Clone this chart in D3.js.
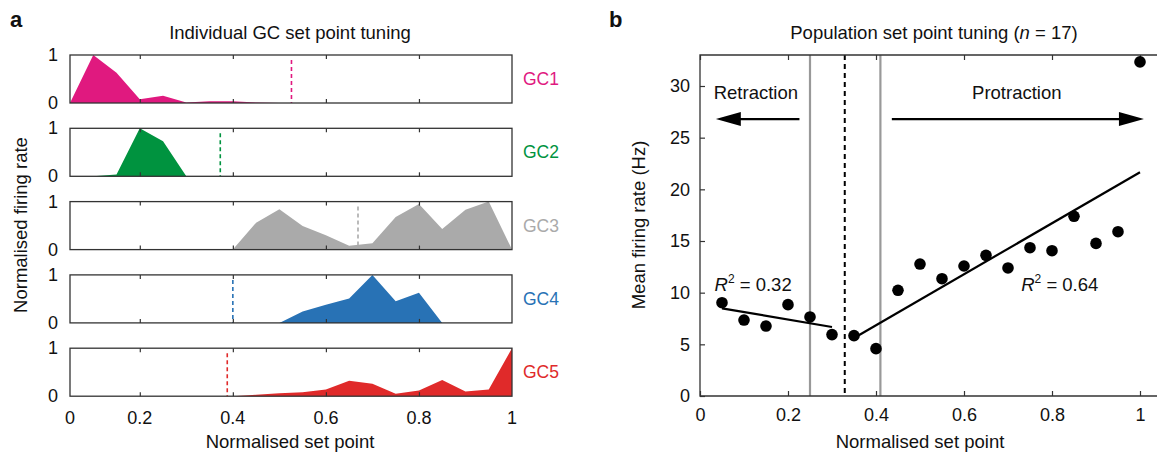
<!DOCTYPE html>
<html>
<head>
<meta charset="utf-8">
<script src="https://cdn.jsdelivr.net/npm/d3@7"></script>
<style>
  body { margin: 0; background: #fff; }
  text { font-family: "Liberation Sans", Arial, sans-serif; fill: #111; }
</style>
</head>
<body>
<script>
// SVG size
var svgWidth = 1157;
var svgHeight = 456;

// ---- panel a data: normalised firing rate per set point bin ----
var setPoints = [0.05, 0.1, 0.15, 0.2, 0.25, 0.3, 0.35, 0.4, 0.45, 0.5,
                 0.55, 0.6, 0.65, 0.7, 0.75, 0.8, 0.85, 0.9, 0.95, 1];
var gcNames = ["GC1", "GC2", "GC3", "GC4", "GC5"];
var gc1 = [0, 1, 0.63, 0.08, 0.15, 0.01, 0.035, 0.035, 0.01, 0, 0, 0, 0, 0, 0, 0, 0, 0, 0, 0];
var gc2 = [0, 0, 0.04, 1, 0.73, 0, 0, 0, 0, 0, 0, 0, 0, 0, 0, 0, 0, 0, 0, 0];
var gc3 = [0, 0, 0, 0, 0, 0, 0, 0, 0.56, 0.84, 0.49, 0.3, 0.08, 0.13, 0.68, 0.95, 0.43, 0.83, 1, 0];
var gc4 = [0, 0, 0, 0, 0, 0, 0, 0, 0, 0, 0.24, 0.38, 0.51, 1, 0.45, 0.63, 0, 0, 0, 0];
var gc5 = [0, 0, 0, 0, 0, 0, 0, 0, 0.03, 0.06, 0.08, 0.14, 0.32, 0.26, 0.05, 0.12, 0.34, 0.1, 0.14, 1];
var gcSetPoint = [0.526, 0.373, 0.669, 0.4, 0.388];
var gcColors = ["#e0197f", "#00933f", "#aaaaaa", "#2872b5", "#e02a2a"];
var xTicksA = [0.05, 0.2, 0.4, 0.6, 0.8, 1];
var xTickLabelsA = ["0", "0.2", "0.4", "0.6", "0.8", "1"];

// ---- panel b data: mean firing rate vs set point ----
var popX = [0.05, 0.1, 0.15, 0.2, 0.25, 0.3, 0.35, 0.4, 0.45, 0.5,
            0.55, 0.6, 0.65, 0.7, 0.75, 0.8, 0.85, 0.9, 0.95, 1];
var popRate = [9.03, 7.35, 6.77, 8.84, 7.65, 5.94, 5.84, 4.58, 10.23, 12.77,
               11.35, 12.58, 13.61, 12.39, 14.35, 14.06, 17.39, 14.77, 15.9, 32.33];
var fitLeftX = [0.05, 0.3];
var fitLeftY = [8.48, 6.68];
var fitRightX = [0.355, 1];
var fitRightY = [5.74, 21.65];
var boundaryLines = [0.25, 0.41];
var setPointLine = 0.329;
var yTicksB = [0, 5, 10, 15, 20, 25, 30];
var xTicksB = [0, 0.2, 0.4, 0.6, 0.8, 1];

var svg = d3.select("body")
  .append("svg")
  .attr("width", svgWidth)
  .attr("height", svgHeight);

// panel letters + titles
svg.append("text").attr("x", 10).attr("y", 27)
  .style("font-size", "22px").style("font-weight", "bold").text("a");
svg.append("text").attr("x", 609).attr("y", 27)
  .style("font-size", "22px").style("font-weight", "bold").text("b");

svg.append("text").attr("x", 290).attr("y", 39).attr("text-anchor", "middle")
  .style("font-size", "18.5px").text("Individual GC set point tuning");

var titleB = svg.append("text").attr("x", 934).attr("y", 39).attr("text-anchor", "middle")
  .style("font-size", "18.5px");
titleB.append("tspan").text("Population set point tuning (");
titleB.append("tspan").style("font-style", "italic").text("n");
titleB.append("tspan").text(" = 17)");

// ================= panel a =================
var xA = d3.scaleLinear().domain([0.05, 1]).range([70, 512]);
var rowTop = 55, rowH = 48, rowStep = 73.3;
var gcSeries = [gc1, gc2, gc3, gc4, gc5];

gcSeries.forEach(function(vals, i) {
  var top = rowTop + i * rowStep;
  var y = d3.scaleLinear().domain([0, 1]).range([top + rowH, top]);
  var g = svg.append("g");

  var area = d3.area()
    .x(function(d, j) { return xA(setPoints[j]); })
    .y0(y(0))
    .y1(function(d) { return y(d); });

  g.append("path")
    .datum(vals)
    .attr("d", area)
    .attr("fill", gcColors[i]);

  // dashed set point
  g.append("line")
    .attr("x1", xA(gcSetPoint[i])).attr("x2", xA(gcSetPoint[i]))
    .attr("y1", top + 5).attr("y2", y(0))
    .attr("stroke", gcColors[i])
    .attr("stroke-width", 1.6)
    .attr("stroke-dasharray", "4,3");

  // frame with inward ticks
  var bottomAxis = d3.axisBottom(xA).tickValues(xTicksA.slice(1, 5)).tickSize(-4).tickFormat("");
  var topAxis = d3.axisTop(xA).tickValues(xTicksA.slice(1, 5)).tickSize(-4).tickFormat("");
  g.append("g").attr("transform", "translate(0," + y(0) + ")").call(bottomAxis);
  g.append("g").attr("transform", "translate(0," + top + ")").call(topAxis);
  g.append("rect")
    .attr("x", xA(0.05)).attr("y", top)
    .attr("width", xA(1) - xA(0.05)).attr("height", rowH)
    .attr("fill", "none").attr("stroke", "#333").attr("stroke-width", 1.3);

  g.selectAll(".domain").remove();
  g.selectAll(".tick line").attr("stroke", "#333").attr("stroke-width", 1.2);

  // 0 / 1 labels
  g.append("text").attr("x", 58).attr("y", y(1) + 6).attr("text-anchor", "end")
    .style("font-size", "18px").text("1");
  g.append("text").attr("x", 58).attr("y", y(0) + 6).attr("text-anchor", "end")
    .style("font-size", "18px").text("0");

  // series name
  g.append("text").attr("x", 523).attr("y", top + rowH / 2 + 6)
    .style("font-size", "17.5px").style("fill", gcColors[i]).text(gcNames[i]);
});

// x tick labels for bottom row
svg.append("g")
  .selectAll("text")
  .data(xTicksA)
  .enter()
  .append("text")
  .attr("x", function(d) { return xA(d); })
  .attr("y", 424)
  .attr("text-anchor", "middle")
  .style("font-size", "18px")
  .text(function(d, i) { return xTickLabelsA[i]; });

svg.append("text").attr("x", 290).attr("y", 448).attr("text-anchor", "middle")
  .style("font-size", "18.5px").text("Normalised set point");
svg.append("text")
  .attr("transform", "translate(27,225) rotate(-90)")
  .attr("text-anchor", "middle")
  .style("font-size", "18.5px").text("Normalised firing rate");

// ================= panel b =================
var xB = d3.scaleLinear().domain([0, 1]).range([700, 1140]);
var yB = d3.scaleLinear().domain([0, 33]).range([396, 55]);
var chartB = svg.append("g");

// boundary lines
chartB.selectAll(".bound")
  .data(boundaryLines)
  .enter()
  .append("line")
  .attr("x1", d => xB(d)).attr("x2", d => xB(d))
  .attr("y1", yB(33)).attr("y2", yB(0))
  .attr("stroke", "#999").attr("stroke-width", 2.2);

chartB.append("line")
  .attr("x1", xB(setPointLine)).attr("x2", xB(setPointLine))
  .attr("y1", yB(33)).attr("y2", yB(0))
  .attr("stroke", "#000").attr("stroke-width", 2)
  .attr("stroke-dasharray", "5,4");

// axes
var bottomAxisB = d3.axisBottom(xB).tickValues(xTicksB).tickSize(-5).tickPadding(12)
  .tickFormat(d => d3.format("~g")(d));
var leftAxisB = d3.axisLeft(yB).tickValues(yTicksB).tickSize(-5).tickPadding(10);
var topAxisB = d3.axisTop(xB).tickValues(xTicksB).tickSize(-5).tickFormat("");

chartB.append("g").attr("class", "axb").attr("transform", "translate(0,396)").call(bottomAxisB);
chartB.append("g").attr("class", "axb").attr("transform", "translate(700,0)").call(leftAxisB);
chartB.append("g").attr("class", "axb").attr("transform", "translate(0,55)").call(topAxisB);
chartB.selectAll(".axb .domain").remove();
chartB.selectAll(".axb .tick line").attr("stroke", "#333").attr("stroke-width", 1.2);
chartB.selectAll(".axb .tick text").style("font-size", "18px").style("font-family", "Liberation Sans, Arial, sans-serif").attr("fill", "#111");

// frame (no right edge - runs off the picture)
chartB.append("path")
  .attr("d", "M" + svgWidth + "," + yB(33) + "H" + xB(0) + "V" + yB(0) + "H" + svgWidth)
  .attr("fill", "none").attr("stroke", "#333").attr("stroke-width", 1.3);

// regression lines
var fitLine = d3.line().x(d => xB(d[0])).y(d => yB(d[1]));
chartB.append("path").datum(d3.zip(fitLeftX, fitLeftY)).attr("d", fitLine)
  .attr("fill", "none").attr("stroke", "#000").attr("stroke-width", 2.2);
chartB.append("path").datum(d3.zip(fitRightX, fitRightY)).attr("d", fitLine)
  .attr("fill", "none").attr("stroke", "#000").attr("stroke-width", 2.2);

// points
chartB.selectAll(".dot")
  .data(d3.zip(popX, popRate))
  .enter()
  .append("circle")
  .attr("class", "dot")
  .attr("cx", d => xB(d[0]))
  .attr("cy", d => yB(d[1]))
  .attr("r", 5.8)
  .attr("fill", "#000");

// arrows
function arrow(from, to, yv) {
  var x0 = xB(from), x1 = xB(to), yy = yB(yv);
  var dir = x1 > x0 ? 1 : -1;
  var headLen = 25, headHalf = 7;
  chartB.append("line")
    .attr("x1", x0).attr("x2", x1 - dir * headLen / 2)
    .attr("y1", yy).attr("y2", yy)
    .attr("stroke", "#000").attr("stroke-width", 2.2);
  chartB.append("path")
    .attr("d", "M" + x1 + "," + yy +
      "L" + (x1 - dir * headLen) + "," + (yy - headHalf) +
      "L" + (x1 - dir * headLen) + "," + (yy + headHalf) + "Z")
    .attr("fill", "#000");
}
arrow(0.226, 0.036, 26.8);
arrow(0.436, 1.009, 26.8);

chartB.append("text").attr("x", xB(0.127)).attr("y", yB(29.35) + 6)
  .attr("text-anchor", "middle").style("font-size", "18.5px").text("Retraction");
chartB.append("text").attr("x", xB(0.72)).attr("y", yB(29.35) + 6)
  .attr("text-anchor", "middle").style("font-size", "18.5px").text("Protraction");

function rLabel(xv, yv, val) {
  var t = chartB.append("text").attr("x", xB(xv)).attr("y", yB(yv))
    .style("font-size", "18.5px");
  t.append("tspan").style("font-style", "italic").text("R");
  t.append("tspan").attr("dy", -8).style("font-size", "12px").text("2");
  t.append("tspan").attr("dy", 8).text(" = " + val);
}
rLabel(0.033, 10.2, "0.32");
rLabel(0.73, 10.2, "0.64");

svg.append("text").attr("x", 920).attr("y", 448).attr("text-anchor", "middle")
  .style("font-size", "18.5px").text("Normalised set point");
svg.append("text")
  .attr("transform", "translate(645,225) rotate(-90)")
  .attr("text-anchor", "middle")
  .style("font-size", "18.5px").text("Mean firing rate (Hz)");
</script>
</body>
</html>
